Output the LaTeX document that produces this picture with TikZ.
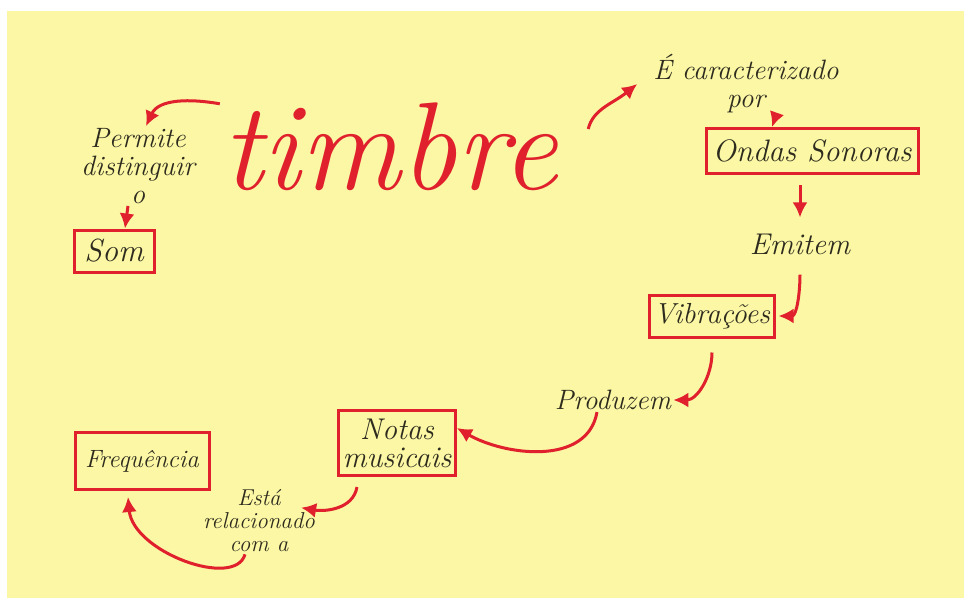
\documentclass[tikz,border=0pt]{standalone}
\usepackage{fontspec}
\usepackage{xcolor}
\usepackage{tikz}
\usetikzlibrary{arrows.meta}

\definecolor{paper}{RGB}{251,247,165}
\definecolor{ink}{RGB}{224,32,44}
\definecolor{pen}{RGB}{45,42,30}

\begin{document}
\begin{tikzpicture}[x=1pt, y=1pt,
    word/.style={text=pen, font=\fontsize{28}{28}\selectfont\itshape, align=center, inner sep=2pt},
    box/.style={word, draw=ink, line width=3pt, line cap=round, inner sep=4pt},
    arr/.style={draw=ink, line width=3pt, -{Latex[length=15pt,width=15pt]}}]

    % Paper
    \useasboundingbox (0,0) rectangle (964,-598);
    \fill[white] (0,0) rectangle (964,-598);
    \fill[paper] (7,-11) rectangle (964,-598);

    % Title
    \node[text=ink, font=\fontsize{125}{125}\selectfont\itshape, inner sep=2pt] (timbre) at (390,-147) {timbre};

    % Left branch
    \node[word] (permite) at (138,-166) {Permite\\distinguir\\o};
    \node[box, font=\fontsize{32}{32}\selectfont\itshape, minimum width=80, minimum height=42] (som) at (114,-251) {Som};

    % Right branch
    \node[word] (carac) at (746,-84) {É caracterizado\\por};
    \node[box, font=\fontsize{31}{31}\selectfont\itshape, minimum width=212, minimum height=45] (ondas) at (812,-151) {Ondas Sonoras};
    \node[word, font=\fontsize{30}{30}\selectfont\itshape] (emitem) at (800,-244) {Emitem};
    \node[box, font=\fontsize{29}{29}\selectfont\itshape, minimum width=120, minimum height=42] (vibra) at (712,-316) {Vibrações};
    \node[word] (produz) at (613,-400) {Produzem};
    \node[box, font=\fontsize{30}{28}\selectfont\itshape, minimum width=113, minimum height=65] (notas) at (397,-443) {Notas\\musicais};
    \node[word, font=\fontsize{23}{23}\selectfont\itshape] (relac) at (259,-521) {Está\\relacionado\\com a};
    \node[box, font=\fontsize{25}{25}\selectfont\itshape, minimum width=134, minimum height=57] (freq) at (142,-461) {Frequência};

    % Connectors
    \draw[arr] ([yshift=-3]timbre.north west) to[out=170, in=65] ([xshift=8]permite.north);
    \draw[arr] ([xshift=-10]permite.south) -- ([xshift=11]som.north);
    \draw[arr] ([shift={(28,18)}]timbre.east) .. controls +(5,20) and +(-25,-20) .. ([xshift=-14]carac.west);
    \draw[arr] ([xshift=30]carac.south) -- ([xshift=-40]ondas.north);
    \draw[arr] ([yshift=-10]ondas.south -| emitem.north) -- ([yshift=14]emitem.north);
    \draw[arr] ([yshift=-18]emitem.south) to[out=-90, in=0] ([xshift=3]vibra.east);
    \draw[arr] ([yshift=-14]vibra.south) to[out=-90, in=0] (produz.east);
    \draw[arr] ([xshift=-16]produz.south) to[out=-100, in=-30] ([yshift=15]notas.east);
    \draw[arr] ([shift={(-40,-10)}]notas.south) to[out=-100, in=-10] ([shift={(-16,-20)}]relac.north east);
    \draw[arr] ([xshift=-14]relac.south) .. controls +(-10,-35) and +(5,-55) .. ([shift={(-14,-6)}]freq.south);

\end{tikzpicture}
\end{document}
